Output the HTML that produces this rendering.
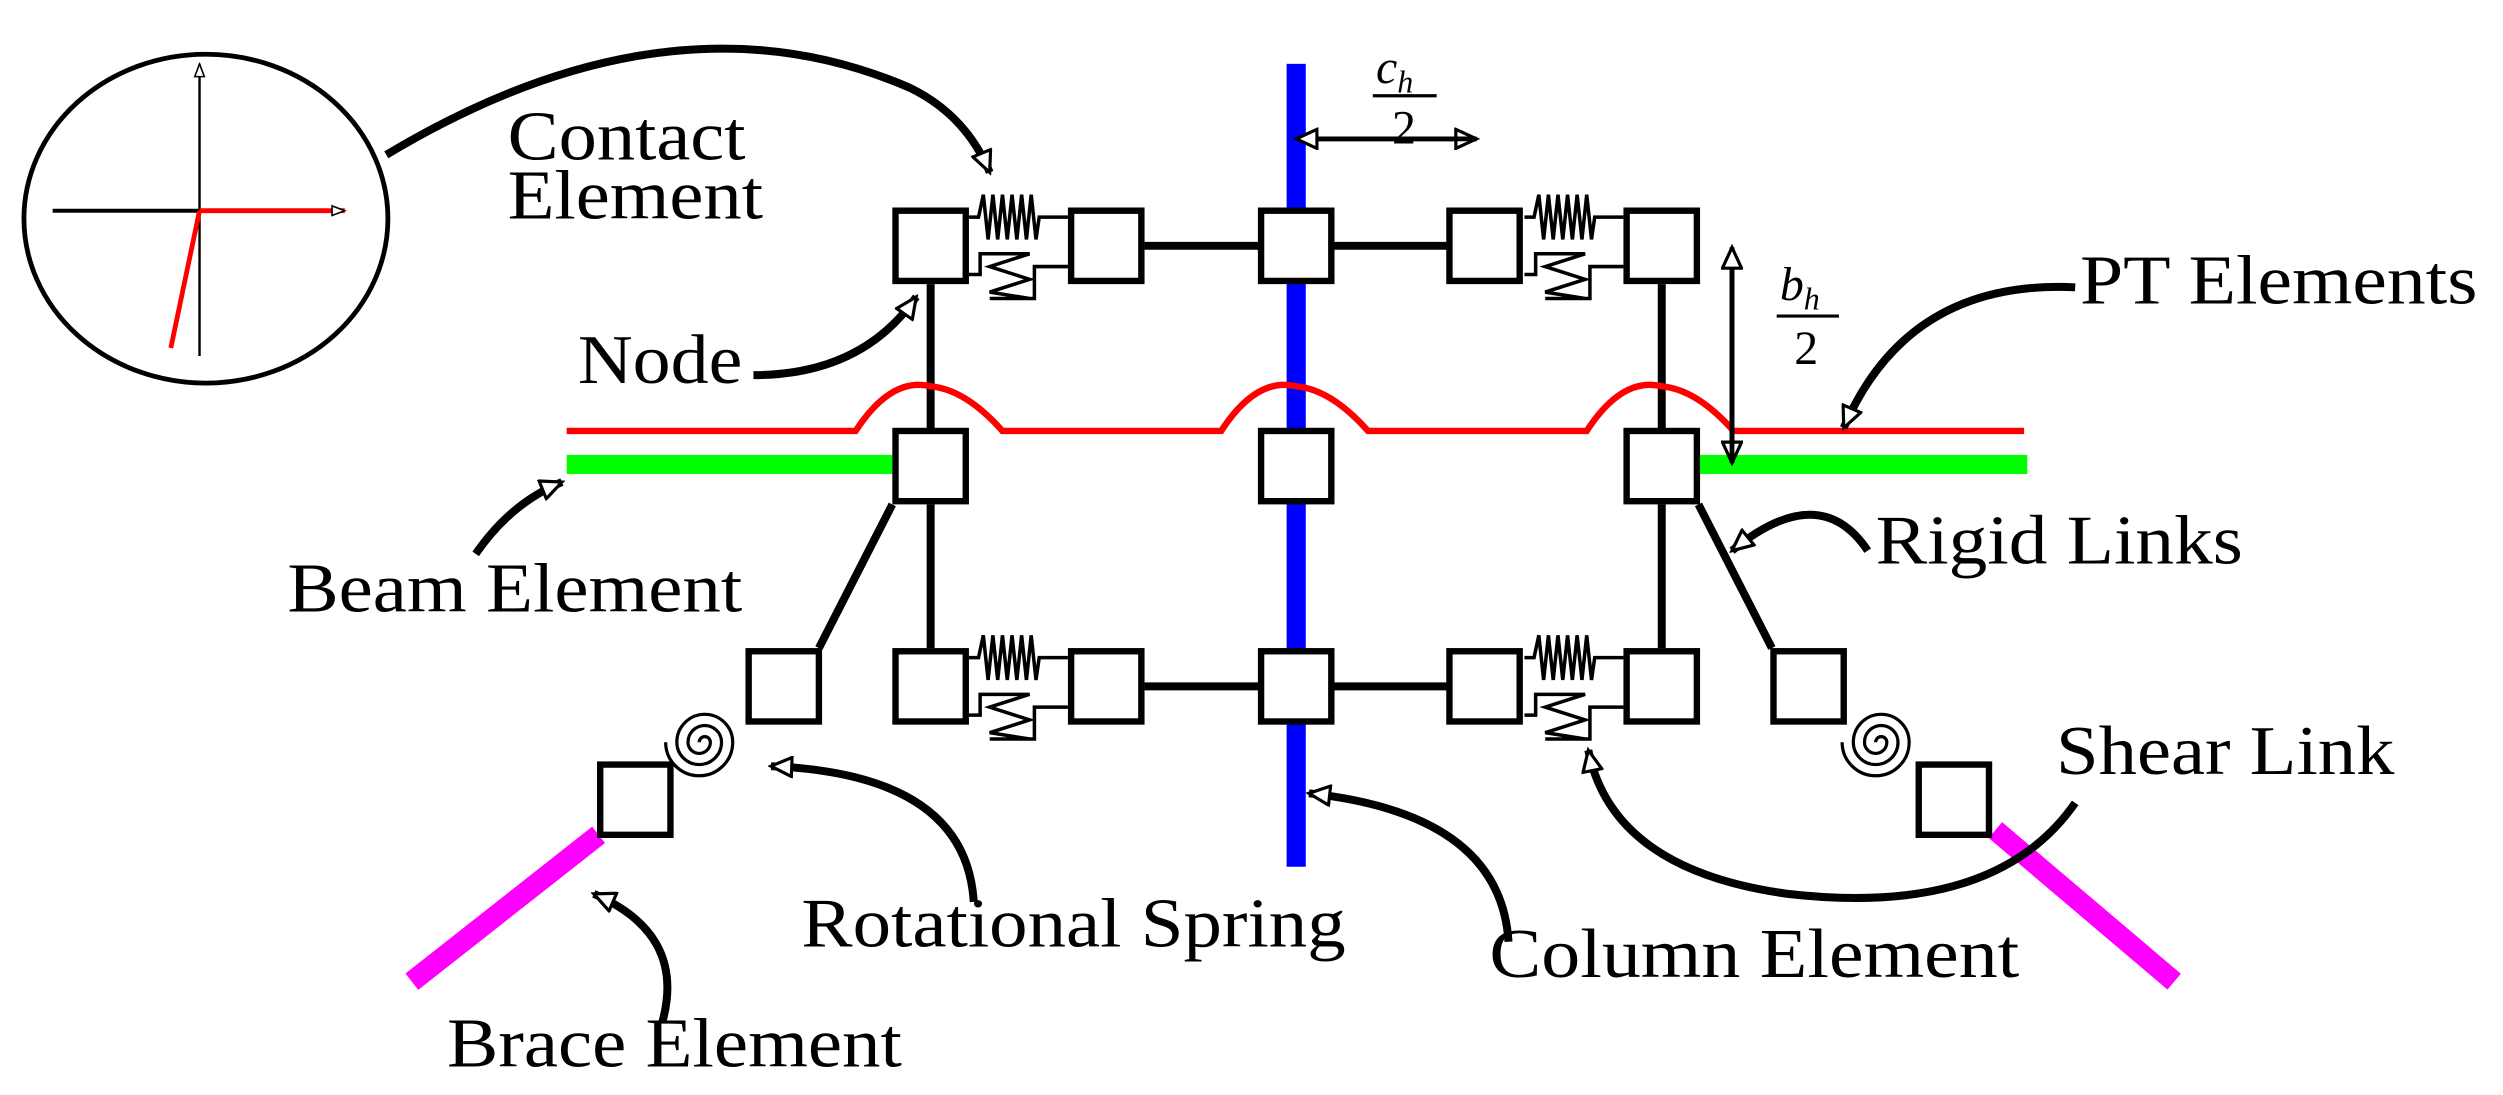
<!DOCTYPE html>
<html><head><meta charset="utf-8"><style>html,body{margin:0;padding:0;background:#fff}svg{display:block}</style></head><body>
<svg width="2503" height="1095" viewBox="0 0 1568 686" preserveAspectRatio="none" xmlns="http://www.w3.org/2000/svg">
<defs>
<marker id="a" markerWidth="16" markerHeight="14" refX="14" refY="7" orient="auto" markerUnits="userSpaceOnUse">
<path d="M1,1 L14,7 L1,13 Z" fill="#fff" stroke="#000" stroke-width="2"/></marker>
<marker id="s" markerWidth="10" markerHeight="8" refX="9" refY="4" orient="auto" markerUnits="userSpaceOnUse">
<path d="M1,1 L9,4 L1,7 Z" fill="#fff" stroke="#000" stroke-width="1"/></marker>
<g id="spr">
<path d="M0,-18 H6 L9,-32 L12,-4 L15,-32 L18,-4 L21,-32 L24,-4 L27,-32 L30,-4 L33,-32 L36,-4 L39,-32 L42,-4 L44,-18 H62" fill="none" stroke="#000" stroke-width="2.2"/>
<path d="M0,18 H7 V5 H22 M22,5 L38,5 L13,13 L38,21 L13,29 L38,33 L13,33 M38,33 H41 V13 H62" fill="none" stroke="#000" stroke-width="2.2"/>
</g>
<g id="spiral"><path d="M0,0 a3.5,3.5 0 1,1 7,0 a7,7 0 1,1 -14,0 a10.5,10.5 0 1,1 21,0 a14,14 0 1,1 -28,0 a17.5,17.5 0 1,1 35,0 a21,21 0 1,1 -42,0" fill="none" stroke="#000" stroke-width="2"/></g>
</defs>
<g font-family="Liberation Serif, serif" font-size="44" fill="#000">
<rect x="806" y="40" width="12" height="503" fill="#0000ff"/>
<rect x="355" y="285" width="204" height="12" fill="#00ff00"/>
<rect x="1064" y="285" width="206" height="12" fill="#00ff00"/>
<g stroke="#000" stroke-width="5" fill="none">
<line x1="583" y1="178" x2="583" y2="269"/><line x1="583" y1="316" x2="583" y2="406"/>
<line x1="1041" y1="178" x2="1041" y2="269"/><line x1="1041" y1="316" x2="1041" y2="406"/>
<line x1="717" y1="154" x2="789" y2="154"/><line x1="835" y1="154" x2="907" y2="154"/>
<line x1="717" y1="430" x2="789" y2="430"/><line x1="835" y1="430" x2="907" y2="430"/>
<line x1="559" y1="316" x2="513" y2="406"/><line x1="1064" y1="316" x2="1110" y2="406"/>
</g>
<line x1="375" y1="523" x2="258" y2="615" stroke="#ff00ff" stroke-width="13"/>
<line x1="1250" y1="520" x2="1362" y2="615" stroke="#ff00ff" stroke-width="13"/>
<path d="M355,270 H536 Q558,236 583,242 Q605,244 628,270 H765 Q787,236 812,242 Q834,244 857,270 H994 Q1016,236 1041,242 Q1063,244 1086,270 H1268" fill="none" stroke="#ff0000" stroke-width="4"/>
<use href="#spr" x="607" y="154"/><use href="#spr" x="607" y="430"/>
<use href="#spr" x="955" y="154"/><use href="#spr" x="955" y="430"/>
<g fill="#fff" stroke="#000" stroke-width="4">
<rect x="561" y="132" width="44" height="44"/><rect x="671" y="132" width="44" height="44"/><rect x="790" y="132" width="44" height="44"/><rect x="908" y="132" width="44" height="44"/><rect x="1019" y="132" width="44" height="44"/>
<rect x="561" y="270" width="44" height="44"/><rect x="790" y="270" width="44" height="44"/><rect x="1019" y="270" width="44" height="44"/>
<rect x="561" y="408" width="44" height="44"/><rect x="671" y="408" width="44" height="44"/><rect x="790" y="408" width="44" height="44"/><rect x="908" y="408" width="44" height="44"/><rect x="1019" y="408" width="44" height="44"/>
<rect x="469" y="408" width="44" height="44"/><rect x="376" y="479" width="44" height="44"/>
<rect x="1111" y="408" width="44" height="44"/><rect x="1202" y="479" width="44" height="44"/>
</g>
<use href="#spiral" x="438" y="465"/><use href="#spiral" x="1175" y="465"/>
<ellipse cx="129" cy="137" rx="114" ry="103" fill="none" stroke="#000" stroke-width="3"/>
<line x1="125" y1="223" x2="125" y2="40" stroke="#000" stroke-width="1.5" marker-end="url(#s)"/>
<line x1="33" y1="132" x2="125" y2="132" stroke="#000" stroke-width="2.5"/>
<line x1="125" y1="132" x2="216" y2="132" stroke="#ff0000" stroke-width="3" marker-end="url(#s)"/>
<line x1="125" y1="132" x2="107" y2="218" stroke="#ff0000" stroke-width="3"/>
<line x1="812" y1="87" x2="925" y2="87" stroke="#000" stroke-width="3" marker-end="url(#a)"/>
<line x1="925" y1="87" x2="812" y2="87" stroke="#000" stroke-width="3" marker-end="url(#a)"/>
<line x1="1085" y1="155" x2="1085" y2="290" stroke="#000" stroke-width="3" marker-end="url(#a)"/>
<line x1="1085" y1="290" x2="1085" y2="155" stroke="#000" stroke-width="3" marker-end="url(#a)"/>
<text x="862" y="52" font-size="30" font-style="italic">c<tspan font-size="20" dy="6">h</tspan></text>
<line x1="860" y1="60" x2="900" y2="60" stroke="#000" stroke-width="2"/>
<text x="872" y="90" font-size="30">2</text>
<text x="1115" y="188" font-size="30" font-style="italic">b<tspan font-size="20" dy="6">h</tspan></text>
<line x1="1113" y1="198" x2="1152" y2="198" stroke="#000" stroke-width="2"/>
<text x="1124" y="228" font-size="30">2</text>
<g fill="none" stroke="#000" stroke-width="5">
<path d="M242,97 Q420,-10 570,55 Q605,72 620,108" marker-end="url(#a)"/>
<path d="M472,235 Q540,235 574,186" marker-end="url(#a)"/>
<path d="M298,347 Q320,315 352,302" marker-end="url(#a)"/>
<path d="M1300,180 Q1195,175 1155,268" marker-end="url(#a)"/>
<path d="M1170,345 Q1140,300 1085,345" marker-end="url(#a)"/>
<path d="M1300,503 Q1250,575 1120,560 Q1010,545 995,470" marker-end="url(#a)"/>
<path d="M610,565 Q605,485 483,480" marker-end="url(#a)"/>
<path d="M945,590 Q940,510 820,497" marker-end="url(#a)"/>
<path d="M415,640 Q430,585 372,560" marker-end="url(#a)"/>
</g>
<text x="318" y="100" textLength="149" lengthAdjust="spacingAndGlyphs">Contact</text>
<text x="318" y="137" textLength="160" lengthAdjust="spacingAndGlyphs">Element</text>
<text x="362" y="240" textLength="103" lengthAdjust="spacingAndGlyphs">Node</text>
<text x="180" y="383" textLength="285" lengthAdjust="spacingAndGlyphs">Beam Element</text>
<text x="1303" y="190" textLength="249" lengthAdjust="spacingAndGlyphs">PT Elements</text>
<text x="1175" y="353" textLength="230" lengthAdjust="spacingAndGlyphs">Rigid Links</text>
<text x="1288" y="485" textLength="212" lengthAdjust="spacingAndGlyphs">Shear Link</text>
<text x="502" y="593" textLength="341" lengthAdjust="spacingAndGlyphs">Rotational Spring</text>
<text x="933" y="612" textLength="332" lengthAdjust="spacingAndGlyphs">Column Element</text>
<text x="280" y="668" textLength="285" lengthAdjust="spacingAndGlyphs">Brace Element</text>
</g>
</svg>
</body></html>
